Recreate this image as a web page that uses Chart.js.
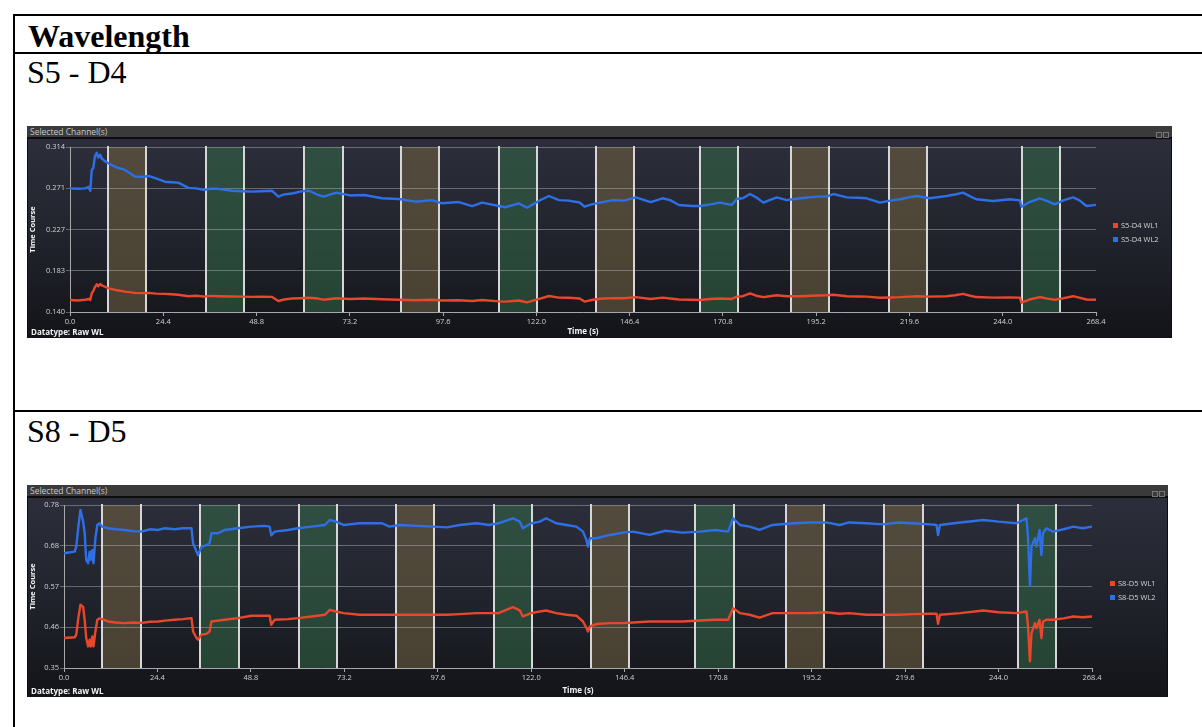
<!DOCTYPE html>
<html>
<head>
<meta charset="utf-8">
<script src="https://cdn.jsdelivr.net/npm/chart.js@4.4.1/dist/chart.umd.min.js"></script>
<style>
  html, body { margin: 0; padding: 0; background: #fff; width: 1202px; height: 727px; overflow: hidden; }
  .rule { position: absolute; background: #000; }
  .cell-text { position: absolute; font-family: "Liberation Serif", "Times New Roman", serif; font-size: 32px; line-height: 32px; color: #000; white-space: nowrap; }
  .panel { position: absolute; background: #0d0d0f; }
  .titlebar { position: absolute; left: 0; top: 0; right: 0; height: 11px; background: #3a3a3a;
              font-family: "Open Sans", sans-serif; font-size: 8.5px; line-height: 11px; color: #c8c8c8; padding-left: 3px; box-sizing: border-box; }
  .titlebar .icons { position: absolute; right: 3px; top: 3px; }
  .titlebar .icons span { display: inline-block; width: 4px; height: 4px; border: 1px solid #777; margin-left: 1px; }
  .plot { position: absolute; background: linear-gradient(#2c2f3b 0%, #20222b 55%, #131418 100%); }
  .plot canvas { position: absolute; left: 0; top: 0; }
  .legend { position: absolute; font-family: "Open Sans", sans-serif; font-size: 7.5px; color: #d4d4d4; }
  .legend div { height: 14px; line-height: 14px; white-space: nowrap; }
  .legend i { display: inline-block; width: 5px; height: 5px; margin-right: 3px; }
  .datatype { position: absolute; font-family: "Open Sans", sans-serif; font-weight: bold; font-size: 8px; color: #f2f2f2; white-space: nowrap; }
</style>
</head>
<body>

<!-- table rules -->
<div class="rule" style="left:13px; top:14px; width:1189px; height:2px;"></div>
<div class="rule" style="left:13px; top:14px; width:2px; height:713px;"></div>
<div class="rule" style="left:13px; top:52px; width:1189px; height:2px;"></div>
<div class="rule" style="left:13px; top:410px; width:1189px; height:2px;"></div>

<div class="cell-text" style="left:28px; top:20px; font-weight:bold;">Wavelength</div>
<div class="cell-text" style="left:27px; top:56px;">S5 - D4</div>
<div class="cell-text" style="left:27px; top:415px;">S8 - D5</div>

<!-- channel panel S5-D4 -->
<div class="panel" style="left:27px; top:126px; width:1145px; height:212px;">
  <div class="titlebar">Selected Channel(s)<div class="icons"><span></span><span></span></div></div>
  <div class="plot" style="left:1px; top:13px; width:1143px; height:199px;">
    <canvas id="chartA" width="1143" height="199"></canvas>
  </div>
  <div class="legend" id="legendA" style="left:1086px; top:92px;"></div>
  <div class="datatype" style="left:4px; top:200px;">Datatype: Raw WL</div>
</div>

<!-- channel panel S8-D5 -->
<div class="panel" style="left:27px; top:485px; width:1141px; height:212px;">
  <div class="titlebar">Selected Channel(s)<div class="icons"><span></span><span></span></div></div>
  <div class="plot" style="left:1px; top:13px; width:1139px; height:199px;">
    <canvas id="chartB" width="1139" height="199"></canvas>
  </div>
  <div class="legend" id="legendB" style="left:1083px; top:91px;"></div>
  <div class="datatype" style="left:4px; top:200px;">Datatype: Raw WL</div>
</div>

<script>
// ---- time axis ----
const xTicks = [0.0, 24.4, 48.8, 73.2, 97.6, 122.0, 146.4, 170.8, 195.2, 219.6, 244.0, 268.4];

// ---- stimulus blocks (start time in s, kind: 'r' = rest-coloured, 'g' = task-coloured) ----
const blockStart = [10.0, 35.6, 61.3, 86.6, 112.2, 137.6, 164.8, 188.5, 214.2, 249.0];
const blockKind  = ['r', 'g', 'g', 'r', 'g', 'r', 'g', 'r', 'r', 'g'];
const blockLength = 10;

// ---- S5 - D4 ----
const s5d4YTicks = ['0.140', '0.183', '0.227', '0.271', '0.314'];
const s5d4YRange = [0.1398, 0.3142];
const s5d4Time = [0, 2, 4.0, 4.9, 5.3, 5.7, 6.1, 6.5, 7.0, 7.4, 7.9, 8.3, 9.2, 10, 12, 14.4, 17, 19, 20.5, 22.5,
  24.8, 26.5, 28.3, 31, 33, 35.3, 36.5, 38.8, 42.3, 45, 47.5, 50, 52.8, 54.5, 56, 58, 60.2, 62.6, 64.9, 66.3,
  69.7, 73.2, 77, 81.6, 86, 90.4, 94.7, 97.3, 101.7, 105.2, 107.8, 112.2, 113.9, 117.4, 119.6, 120.9, 123, 125.3, 127.9, 130.5,
  133.3, 134.6, 136.5, 138.6, 142.1, 145, 148, 151.9, 155, 157, 159.3, 162.8, 164.8, 167.5, 170, 173.1, 174.4, 176, 177.9, 179.5,
  181.4, 183, 184.9, 187.5, 191, 195.3, 198, 199.7, 203.2, 206, 208.4, 211.9, 214.5, 217.1, 219.5, 221.5, 224.9, 229.3, 231.5, 233.6,
  235.5, 237.1, 241.5, 245.9, 248.5, 248.9, 251, 253.7, 255.7, 257.6, 260, 262.4, 264, 265.9, 268.4];
const s5d4Wl1 = [.1525, .1520, .1528, .1535, .1525, .1600, .1620, .1660, .1690, .1670, .1694, .1680, .1665, .1650, .1630, .1613, .1600, .1598, .1600, .1592,
  .1590, .1585, .1580, .1565, .1570, .1560, .1568, .1565, .1562, .1560, .1558, .1560, .1558, .1514, .1530, .1540, .1543, .1548, .1540, .1528,
  .1543, .1535, .1540, .1532, .1528, .1522, .1528, .1520, .1522, .1515, .1525, .1510, .1508, .1520, .1500, .1515, .1540, .1567, .1550, .1548,
  .1540, .1508, .1525, .1538, .1545, .1543, .1555, .1535, .1550, .1540, .1530, .1528, .1525, .1535, .1540, .1535, .1560, .1565, .1596, .1570,
  .1555, .1565, .1575, .1565, .1565, .1572, .1575, .1580, .1565, .1562, .1560, .1548, .1552, .1555, .1560, .1565, .1560, .1565, .1575, .1590,
  .1570, .1556, .1550, .1552, .1550, .1496, .1530, .1556, .1540, .1528, .1545, .1565, .1550, .1530, .1528];
const s5d4Wl2 = [.2705, .2700, .2705, .2720, .2680, .2900, .2920, .3040, .3080, .3030, .3060, .3020, .2990, .2970, .2930, .2900, .2830, .2825, .2836, .2810,
  .2775, .2770, .2765, .2710, .2705, .2688, .2700, .2700, .2680, .2675, .2670, .2675, .2680, .2617, .2640, .2650, .2670, .2680, .2635, .2617,
  .2660, .2630, .2635, .2600, .2593, .2564, .2581, .2547, .2560, .2518, .2554, .2518, .2505, .2547, .2500, .2530, .2580, .2624, .2581, .2575,
  .2555, .2511, .2535, .2554, .2581, .2575, .2610, .2560, .2600, .2580, .2529, .2518, .2518, .2535, .2554, .2530, .2593, .2600, .2645, .2610,
  .2554, .2580, .2610, .2580, .2600, .2617, .2620, .2645, .2610, .2605, .2600, .2554, .2575, .2590, .2610, .2624, .2600, .2624, .2640, .2660,
  .2620, .2590, .2571, .2590, .2578, .2511, .2560, .2600, .2570, .2536, .2580, .2610, .2580, .2518, .2530];

// ---- S8 - D5 ----
const s8d5YTicks = ['0.35', '0.46', '0.57', '0.68', '0.78'];
const s8d5YRange = [0.354, 0.784];
const s8d5Time = [0, 2.8, 3.2, 3.8, 4.3, 5.0, 5.4, 5.8, 6.3, 6.7, 7.0, 7.4, 7.7, 8.2, 8.7, 9.3, 9.9, 11.5, 13.5, 15.9,
  18, 20.2, 22.5, 24.6, 26.3, 28.9, 31, 33.3, 33.7, 34.6, 35.0, 35.9, 37.2, 38.0, 38.5, 40.2, 42.0, 45.4, 48.9, 52.4,
  53.7, 54.1, 55.0, 58.5, 61.1, 64.6, 68.1, 69.4, 71.0, 73.0, 77.2, 83, 85, 87.7, 92, 96.4, 100, 103.3, 107.7, 111,
  113.4, 117.2, 119, 119.8, 122, 124.2, 125.9, 128.5, 131.2, 133.8, 135.5, 136.4, 136.8, 137.3, 139.0, 142.5, 146.0, 148.6, 152.9, 157,
  161.5, 166.0, 170, 173.4, 174.7, 176.5, 179, 181.6, 185, 190.4, 195, 199.0, 202.5, 205, 209.5, 213.9, 218, 221.5, 226.1, 227.8,
  228.2, 228.7, 234, 240.0, 244, 248.7, 251.3, 251.7, 252.2, 252.6, 253.5, 253.9, 254.7, 255.2, 255.6, 256.5, 258.2, 261, 263.5, 266,
  268.4];
const s8d5Wl1 = [.4330, .4350, .4420, .4900, .5207, .5150, .4812, .4330, .4109, .4285, .4109, .4370, .4109, .4504, .4812, .4850, .4830, .4767, .4740, .4725,
  .4740, .4730, .4760, .4767, .4790, .4812, .4830, .4856, .4504, .4330, .4290, .4420, .4440, .4504, .4767, .4790, .4812, .4856, .4917, .4917,
  .4917, .4680, .4812, .4830, .4856, .4899, .4944, .5075, .5030, .4988, .4944, .4944, .4944, .4944, .4944, .4944, .4944, .4960, .4988, .4988,
  .4988, .5146, .5060, .4899, .4988, .5030, .5057, .4988, .4944, .4920, .4767, .4600, .4504, .4636, .4700, .4725, .4725, .4740, .4767, .4767,
  .4767, .4793, .4812, .4812, .5120, .4988, .4944, .4870, .4988, .4988, .4988, .5010, .4970, .4988, .4944, .4944, .4944, .4960, .4970, .4975,
  .4706, .4944, .4988, .5057, .5010, .4988, .5030, .4636, .3714, .4462, .4725, .4590, .4812, .4330, .4767, .4812, .4812, .4850, .4899, .4880,
  .4899];
const s8d5Wl2 = [.6568, .6610, .6742, .7310, .7708, .7400, .7094, .6392, .6305, .6610, .6392, .6650, .6305, .6963, .7313, .7358, .7269, .7226, .7200, .7182,
  .7150, .7137, .7200, .7182, .7226, .7200, .7226, .7226, .6830, .6610, .6520, .6742, .6780, .6830, .7094, .7094, .7182, .7226, .7269, .7290,
  .7269, .7040, .7137, .7182, .7226, .7269, .7313, .7445, .7400, .7313, .7358, .7358, .7269, .7313, .7290, .7269, .7250, .7313, .7358, .7313,
  .7358, .7490, .7400, .7226, .7358, .7400, .7490, .7358, .7313, .7269, .7137, .6920, .6742, .6963, .6963, .7050, .7110, .7137, .7050, .7160,
  .7110, .7137, .7182, .7137, .7490, .7313, .7269, .7182, .7313, .7358, .7380, .7380, .7313, .7380, .7358, .7330, .7380, .7358, .7330, .7313,
  .7050, .7313, .7380, .7445, .7400, .7358, .7490, .6963, .5707, .6742, .6963, .6742, .7182, .6520, .7094, .7226, .7137, .7200, .7269, .7226,
  .7269];

const WL1_COLOR = '#e8472c';
const WL2_COLOR = '#2e6fe6';
const REST_FILL = 'rgba(114,100,66,0.55)';
const TASK_FILL = 'rgba(52,112,74,0.5)';
const UI_FONT = '"Open Sans", "DejaVu Sans", sans-serif';

// shaded stimulus periods with white boundary markers, drawn beneath grid and traces
const stimulusBlocks = {
  id: 'stimulusBlocks',
  beforeDraw(chart) {
    const { ctx, chartArea: { top, bottom }, scales: { x } } = chart;
    ctx.save();
    blockStart.forEach((s, i) => {
      const x0 = x.getPixelForValue(s);
      const x1 = x.getPixelForValue(s + blockLength);
      ctx.fillStyle = blockKind[i] === 'r' ? REST_FILL : TASK_FILL;
      ctx.fillRect(x0, top, x1 - x0, bottom - top);
    });
    ctx.restore();
  },
  beforeDatasetsDraw(chart) {
    const { ctx, chartArea: { top, bottom }, scales: { x } } = chart;
    ctx.save();
    ctx.strokeStyle = '#d6d6d6';
    ctx.lineWidth = 2;
    blockStart.forEach(s => {
      [s, s + blockLength].forEach(v => {
        const px = Math.round(x.getPixelForValue(v));
        ctx.beginPath();
        ctx.moveTo(px, top - 1);
        ctx.lineTo(px, bottom);
        ctx.stroke();
      });
    });
    ctx.restore();
  }
};

function toPoints(times, values) {
  return times.map((t, i) => ({ x: t, y: values[i] }));
}

function buildChart(canvasId, legendId, channel, times, wl1, wl2, yRange, yLabels, area) {
  const canvas = document.getElementById(canvasId);
  const datasets = [
    { label: channel + ' WL1', data: toPoints(times, wl1), borderColor: WL1_COLOR, backgroundColor: WL1_COLOR },
    { label: channel + ' WL2', data: toPoints(times, wl2), borderColor: WL2_COLOR, backgroundColor: WL2_COLOR }
  ];
  const [yMin, yMax] = yRange;
  new Chart(canvas, {
    type: 'line',
    data: { datasets },
    options: {
      responsive: false,
      animation: false,
      parsing: false,
      normalized: true,
      layout: { padding: { left: 0, top: area.top, right: canvas.width - area.right, bottom: 0 } },
      elements: { line: { borderWidth: 2.4, tension: 0, borderJoinStyle: 'round' }, point: { radius: 0 } },
      plugins: { legend: { display: false }, tooltip: { enabled: false } },
      scales: {
        x: {
          type: 'linear',
          min: xTicks[0],
          max: xTicks[xTicks.length - 1],
          afterFit: s => { s.height = canvas.height - area.bottom; },
          afterBuildTicks: s => { s.ticks = xTicks.map(v => ({ value: v })); },
          ticks: { color: '#d2d2d2', font: { family: UI_FONT, size: 7.5 }, padding: 1, maxRotation: 0, autoSkip: false,
                   callback: v => Number(v).toFixed(1) },
          grid: { display: true, drawOnChartArea: false, drawTicks: true, tickLength: 4, color: '#a8a8a8' },
          border: { color: '#a8a8a8', width: 1 },
          title: { display: true, text: 'Time (s)', color: '#f4f4f4', font: { family: UI_FONT, size: 8, weight: 'bold' }, padding: { top: 0, bottom: 1 } }
        },
        y: {
          type: 'linear',
          min: yMin,
          max: yMax,
          afterFit: s => { s.width = area.left; },
          afterBuildTicks: s => {
            s.ticks = yLabels.map((_, i) => ({ value: yMin + (yMax - yMin) * i / (yLabels.length - 1) }));
          },
          ticks: { color: '#d2d2d2', font: { family: UI_FONT, size: 7.5 }, padding: 1,
                   callback: (v, i) => yLabels[i] },
          grid: { color: 'rgba(185,185,190,0.45)', lineWidth: 1, tickLength: 4, drawTicks: true },
          border: { color: '#a8a8a8', width: 1 },
          title: { display: true, text: 'Time Course', color: '#f4f4f4', font: { family: UI_FONT, size: 7.5, weight: 'bold' }, padding: { top: 0, bottom: 5 } }
        }
      }
    },
    plugins: [stimulusBlocks]
  });

  const legend = document.getElementById(legendId);
  datasets.forEach(d => {
    const row = document.createElement('div');
    const sw = document.createElement('i');
    sw.style.background = d.borderColor;
    row.appendChild(sw);
    row.appendChild(document.createTextNode(d.label));
    legend.appendChild(row);
  });
}

buildChart('chartA', 'legendA', 'S5-D4', s5d4Time, s5d4Wl1, s5d4Wl2, s5d4YRange, s5d4YTicks,
           { left: 42, right: 1068, top: 8, bottom: 173 });
buildChart('chartB', 'legendB', 'S8-D5', s8d5Time, s8d5Wl1, s8d5Wl2, s8d5YRange, s8d5YTicks,
           { left: 36, right: 1064, top: 7, bottom: 170 });
</script>
</body>
</html>
